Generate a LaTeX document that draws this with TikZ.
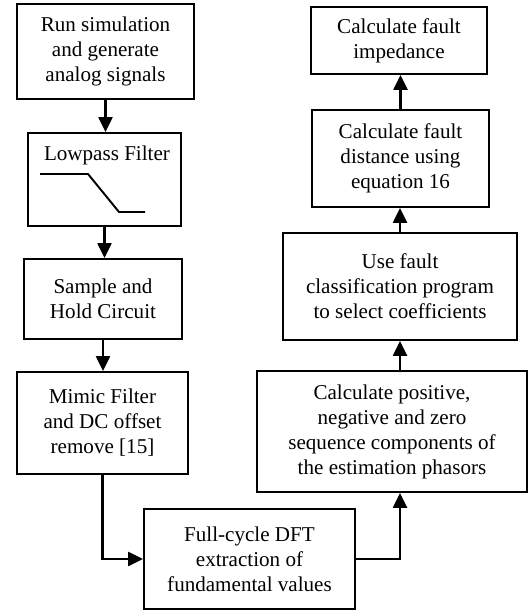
\documentclass[tikz,border=0pt]{standalone}
\usepackage{fontspec}
\setmainfont{Liberation Serif}
\usetikzlibrary{arrows.meta}
\tikzset{
    block/.style={draw, line width=1.1pt, rectangle, align=center, inner sep=0pt,
        font=\rmfamily\fontsize{12}{14.2}\selectfont},
    flow/.style={draw, line width=1.4pt, -{Triangle[length=0.30cm, width=0.28cm]}}
}
\begin{document}
\begin{tikzpicture}
    \useasboundingbox (0,0) rectangle (10.56,12.24);
    
    \node[block, minimum width=3.54cm, minimum height=1.90cm] (sim) at (2.11,11.21) {Run simulation\\and generate\\analog signals};
    \node[block, minimum width=3.06cm, minimum height=1.86cm] (lpf) at (2.09,8.65) {};
    \node[font=\rmfamily\fontsize{12}{14.2}\selectfont] (lpftxt) at (2.14,9.14) {Lowpass Filter};
    \draw[line width=1.1pt] (0.80,8.76) -- (1.76,8.76) -- (2.38,8.00) -- (2.90,8.00);
    \node[block, minimum width=3.16cm, minimum height=1.60cm] (sh) at (2.06,6.26) {Sample and\\Hold Circuit};
    \node[block, minimum width=3.42cm, minimum height=2.04cm] (mim) at (2.05,3.78) {Mimic Filter\\and DC offset\\remove [15]};
    \node[block, minimum width=4.22cm, minimum height=2.00cm] (dft) at (4.99,1.06) {Full-cycle DFT\\extraction of\\fundamental values};
    
    \node[block, minimum width=5.40cm, minimum height=2.42cm] (seq) at (7.84,3.61) {Calculate positive,\\negative and zero\\sequence components of\\the estimation phasors};
    \node[block, minimum width=4.68cm, minimum height=2.14cm] (cls) at (8.00,6.51) {Use fault\\classification program\\to select coefficients};
    \node[block, minimum width=3.54cm, minimum height=1.94cm] (dist) at (8.01,9.07) {Calculate fault\\distance using\\equation 16};
    \node[block, minimum width=3.52cm, minimum height=1.34cm] (imp) at (7.98,11.43) {Calculate fault\\impedance};
    
    \draw[flow] (sim.south) -- (sim.south |- lpf.north);
    \draw[flow] (lpf.south) -- (lpf.south |- sh.north);
    \draw[flow] (sh.south) -- (sh.south |- mim.north);
    \draw[flow] (mim.south) |- (dft.west);
    \draw[flow] (dft.east) -| (seq.south -| cls.south);
    \draw[flow] (cls.south |- seq.north) -- (cls.south);
    \draw[flow] (cls.north) -- (cls.north |- dist.south);
    \draw[flow] (dist.north) -- (dist.north |- imp.south);
\end{tikzpicture}
\end{document}
